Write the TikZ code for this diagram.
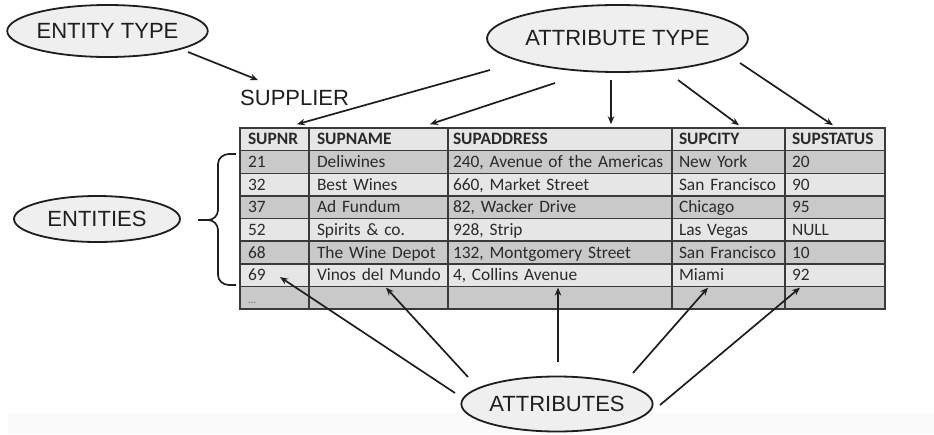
\documentclass[tikz,border=0pt]{standalone}
\usepackage{fontspec}
\setmainfont{Carlito}
\newfontfamily\labelfont{Liberation Sans}
\usetikzlibrary{arrows.meta,shapes.geometric}

\definecolor{inkdark}{HTML}{1E1E1E}
\definecolor{gridline}{HTML}{3A3A3A}
\definecolor{rowdark}{HTML}{C9C9C9}
\definecolor{rowlight}{HTML}{E6E6E6}
\definecolor{ovalfill}{HTML}{EFEFEF}
\definecolor{celltext}{HTML}{2A2A2A}
\definecolor{bandgray}{HTML}{FAFAFA}

% one table row: index, extra style, five cell texts (kept on one line)
\newcommand\tablerow[7]{%
  \pgfmathsetmacro\rowy{128+22.625*(#1+0.5)}%
  \node[cellbox,#2,text width=53pt]  (r#1-1) at (274.5,\rowy) {\mbox{#3}};
  \node[cellbox,#2,text width=123pt] (r#1-2) at (378.5,\rowy) {\mbox{#4}};
  \node[cellbox,#2,inner xsep=5pt,text width=214pt] (r#1-3) at (560,\rowy) {\mbox{#5}};
  \node[cellbox,#2,inner xsep=7pt,text width=99pt]  (r#1-4) at (728.5,\rowy) {\mbox{#6}};
  \node[cellbox,#2,inner xsep=7pt,text width=86pt]  (r#1-5) at (835,\rowy)   {\mbox{#7}};
}

\begin{document}
\begin{tikzpicture}[x=1pt,y=-1pt,
  oval/.style={ellipse, draw=inkdark, line width=1.8pt, fill=ovalfill,
    inner sep=0pt, text=inkdark, font=\labelfont\fontsize{22}{24}\selectfont},
  cellbox/.style={draw=gridline, line width=1.5pt, minimum height=22.625pt,
    inner xsep=8pt, inner ysep=0pt, text height=11.2pt, text depth=0pt,
    align=left, text=celltext, font=\fontsize{17.4}{20}\selectfont},
  headrow/.style={fill=rowlight, font=\fontsize{17.4}{20}\selectfont\bfseries},
  darkrow/.style={fill=rowdark},
  lightrow/.style={fill=rowlight},
  arr/.style={-{Stealth[length=8pt,width=6.5pt]}, line width=1.7pt, draw=inkdark},
]
\useasboundingbox (0,0) rectangle (934,434);
\fill[white] (0,0) rectangle (934,434);
\fill[bandgray] (8,413) rectangle (934,434);

% labels
\node[oval, minimum width=195pt, minimum height=52pt] (entitytype) at (107.5,31) {ENTITY TYPE};
\node[oval, minimum width=261pt, minimum height=67pt] (attrtype) at (617.5,38.5) {ATTRIBUTE TYPE};
\node[oval, minimum width=166pt, minimum height=46pt] (entities) at (97,219) {ENTITIES};
\node[oval, minimum width=180pt, minimum height=55pt] (attributes) at (557,404) {ATTRIBUTES};
\node[anchor=base west, inner sep=0pt, text=inkdark,
  font=\labelfont\fontsize{22}{24}\selectfont] (supplier) at (240,105) {SUPPLIER};

% the SUPPLIER table
\tablerow{0}{headrow}{SUPNR}{SUPNAME}{SUPADDRESS}{SUPCITY}{SUPSTATUS}
\tablerow{1}{darkrow}{21}{Deliwines}{240, Avenue of the Americas}{New York}{20}
\tablerow{2}{lightrow}{32}{Best Wines}{660, Market Street}{San Francisco}{90}
\tablerow{3}{darkrow}{37}{Ad Fundum}{82, Wacker Drive}{Chicago}{95}
\tablerow{4}{lightrow}{52}{Spirits \& co.}{928, Strip}{Las Vegas}{NULL}
\tablerow{5}{darkrow}{68}{The Wine Depot}{132, Montgomery Street}{San Francisco}{10}
\tablerow{6}{lightrow}{69}{Vinos del Mundo}{4, Collins Avenue}{Miami}{92}
\tablerow{7}{darkrow}{{\fontsize{11}{12}\selectfont\color{gray!90!black}...}}{}{}{}{}

% brace grouping the entity rows
\draw[inkdark, line width=1.7pt]
  (236,154) -- (229,154) to[out=180,in=90] (218,164) -- (218,210)
  to[out=-90,in=0] (208,220) -- (198,220);
\draw[inkdark, line width=1.7pt]
  (208,220) to[out=0,in=90] (218,230) -- (218,275)
  to[out=-90,in=180] (229,285) -- (236,285);

% entity type
\draw[arr] ([shift={(80.5,21)}]entitytype.center) -- ([shift={(18,-25)}]supplier.base west);

% attribute types
\draw[arr] ([shift={(-127.5,31.5)}]attrtype.center) -- ([shift={(22.5,-3)}]r0-1.north);
\draw[arr] ([shift={(-62.5,44.5)}]attrtype.center) -- ([shift={(51.5,-3)}]r0-2.north);
\draw[arr] ([shift={(-6.5,41.5)}]attrtype.center) -- ([shift={(51,-3)}]r0-3.north);
\draw[arr] ([shift={(60.5,41.5)}]attrtype.center) -- ([shift={(10.5,-2)}]r0-4.north);
\draw[arr] ([shift={(122.5,24.5)}]attrtype.center) -- ([shift={(-2,-2)}]r0-5.north);

% attributes
\draw[arr] ([shift={(-102,-11)}]attributes.center) -- ([shift={(5.5,2)}]r6-1.center);
\draw[arr] ([shift={(-89,-27)}]attributes.center) -- ([shift={(7.5,0.5)}]r6-2.south);
\draw[arr] ([shift={(1,-42)}]attributes.center) -- ([shift={(-2,0.5)}]r6-3.south);
\draw[arr] ([shift={(76,-31)}]attributes.center) -- ([shift={(-20.5,0.5)}]r6-4.south);
\draw[arr] ([shift={(103,1)}]attributes.center) -- ([shift={(-35,0.5)}]r6-5.south);
\end{tikzpicture}
\end{document}
